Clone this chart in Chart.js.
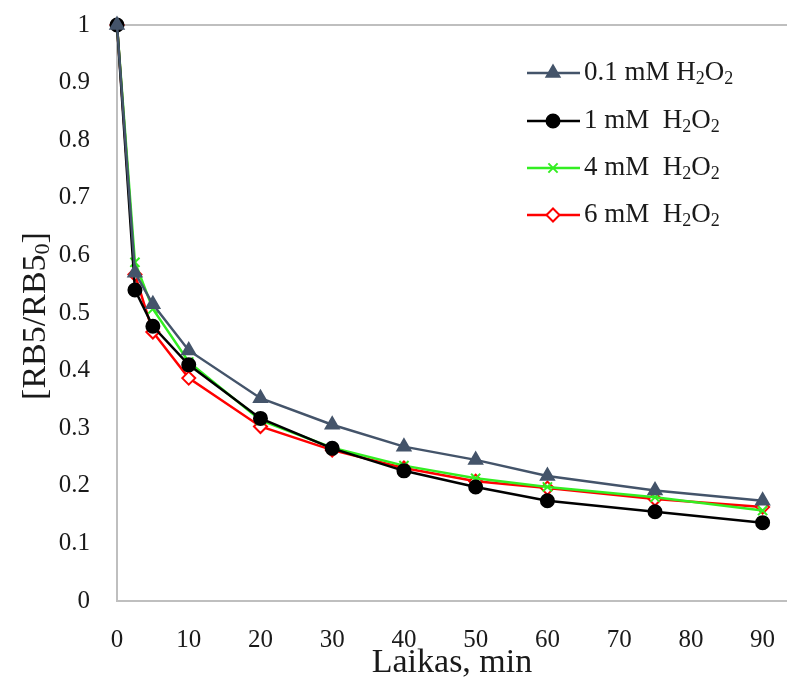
<!DOCTYPE html>
<html>
<head>
<meta charset="utf-8">
<script src="https://cdn.jsdelivr.net/npm/chart.js@4.4.0/dist/chart.umd.min.js"></script>
<style>
  html, body { margin: 0; padding: 0; background: #fff; }
  #wrap { width: 787px; height: 684px; }
</style>
</head>
<body>
<div id="wrap"><canvas id="chart" width="787" height="684"></canvas></div>
<script>
// time, min
const times = [0, 2.5, 5, 10, 20, 30, 40, 50, 60, 75, 90]
// RB5/RB5_0 for each H2O2 dose
const h2o2_01 = [1, 0.57, 0.515, 0.435, 0.352, 0.306, 0.268, 0.245, 0.217, 0.192, 0.174]
const h2o2_1 = [1, 0.54, 0.477, 0.41, 0.317, 0.265, 0.226, 0.198, 0.174, 0.155, 0.136]
const h2o2_4 = [1, 0.588, 0.507, 0.415, 0.314, 0.266, 0.235, 0.213, 0.198, 0.18, 0.157]
const h2o2_6 = [1, 0.567, 0.467, 0.387, 0.303, 0.262, 0.231, 0.208, 0.196, 0.177, 0.163]
const seriesLabels = ["0.1 mM", "1 mM", "4 mM", "6 mM"]
const xTicks = [0, 10, 20, 30, 40, 50, 60, 70, 80, 90]
const yTicks = [0, 0.1, 0.2, 0.3, 0.4, 0.5, 0.6, 0.7, 0.8, 0.9, 1]

const FONT = "'Liberation Serif', 'Times New Roman', serif"
const AXIS = "#BFBFBF"
const toPoints = (vals) => vals.map((v, i) => ({ x: times[i], y: v }))

const styles = [
    { color: "#44546A", pointStyle: "triangle", radius: 7.5, fill: "#44546A" },
    { color: "#000000", pointStyle: "circle", radius: 6.5, fill: "#000000" },
    { color: "#33EE22", pointStyle: "cross", radius: 6.5, fill: "#33EE22", rotation: 45 },
    { color: "#FF0000", pointStyle: "rectRot", radius: 6.5, fill: "#FFFFFF" },
]

const datasets = [h2o2_01, h2o2_1, h2o2_4, h2o2_6].map((vals, i) => ({
    label: seriesLabels[i],
    data: toPoints(vals),
    borderColor: styles[i].color,
    backgroundColor: styles[i].fill,
    pointBorderColor: styles[i].color,
    pointBackgroundColor: styles[i].fill,
    pointStyle: styles[i].pointStyle,
    pointRadius: styles[i].radius,
    pointRotation: styles[i].rotation || 0,
    pointBorderWidth: 2,
    borderWidth: 2.5,
    tension: 0,
    clip: false,
}))

// draws text made of [string, isSub] parts
function drawRich(ctx, parts, x, y, size){
    let cx = x
    parts.forEach(([txt, sub]) => {
        ctx.font = (sub ? Math.round(size * 0.65) : size) + "px " + FONT
        ctx.fillText(txt, cx, sub ? y + size * 0.22 : y)
        cx += ctx.measureText(txt).width
    })
}

// the scales add label room to the chart area padding; drop it, layout.padding decides
const noPad = (s) => { s.paddingTop = 0; s.paddingBottom = 0; s.paddingLeft = 0; s.paddingRight = 0 }

const extras = {
    id: "extras",
    beforeDatasetsDraw(chart){
        // top frame line at y = 1
        const ctx = chart.ctx
        const y = chart.scales.y.getPixelForValue(1)
        ctx.save()
        ctx.strokeStyle = AXIS
        ctx.lineWidth = 2
        ctx.beginPath()
        ctx.moveTo(chart.chartArea.left, y)
        ctx.lineTo(chart.chartArea.right, y)
        ctx.stroke()
        ctx.restore()
    },
    afterDraw(chart){
        const ctx = chart.ctx
        ctx.save()
        ctx.fillStyle = "#1a1a1a"
        ctx.textBaseline = "middle"
        ctx.textAlign = "left"

        // legend
        const rows = [73, 121, 168, 215]
        chart.data.datasets.forEach((ds, i) => {
            const y = rows[i]
            ctx.strokeStyle = ds.borderColor
            ctx.lineWidth = 2.5
            ctx.beginPath()
            ctx.moveTo(527, y)
            ctx.lineTo(580, y)
            ctx.stroke()
            ctx.fillStyle = ds.pointBackgroundColor
            ctx.lineWidth = 2
            Chart.helpers.drawPoint(ctx, {
                pointStyle: ds.pointStyle, radius: ds.pointRadius,
                rotation: ds.pointRotation, borderWidth: 2
            }, 553, y)
            ctx.fillStyle = "#1a1a1a"
            const gap = i === 0 ? " " : "  "
            drawRich(ctx, [[ds.label + gap + "H", false], ["2", true], ["O", false], ["2", true]], 584, y, 27)
        })

        // y axis title
        ctx.translate(36, 316)
        ctx.rotate(-Math.PI / 2)
        ctx.textAlign = "left"
        const parts = [["[RB5/RB5", false], ["0", true], ["]", false]]
        let w = 0
        parts.forEach(([t, s]) => { ctx.font = (s ? Math.round(34 * 0.65) : 34) + "px " + FONT; w += ctx.measureText(t).width })
        drawRich(ctx, parts, -w / 2, 0, 34)
        ctx.restore()
    }
}

new Chart(document.getElementById("chart"), {
    type: "line",
    data: { datasets },
    plugins: [extras],
    options: {
        responsive: false,
        animation: false,
        layout: { autoPadding: false, padding: { top: 25, right: 0, left: 0, bottom: 0 } },
        plugins: { legend: { display: false }, tooltip: { enabled: false } },
        scales: {
            x: {
                type: "linear",
                min: 0, max: 93.4,
                afterBuildTicks: (s) => { s.ticks = xTicks.map(v => ({ value: v })) },
                afterFit: (s) => { s.height = 83; noPad(s) },
                grid: { display: false, drawTicks: false },
                border: { display: true, color: AXIS, width: 2 },
                ticks: { color: "#1a1a1a", padding: 24, maxRotation: 0, font: { family: FONT, size: 25 } },
                title: { display: true, text: "Laikas, min", color: "#1a1a1a", padding: { top: 0, bottom: 1 }, font: { family: FONT, size: 34 } },
            },
            y: {
                min: 0, max: 1,
                afterBuildTicks: (s) => { s.ticks = yTicks.map(v => ({ value: v })) },
                afterFit: (s) => { s.width = 117; noPad(s) },
                grid: { display: false, drawTicks: false },
                border: { display: true, color: AXIS, width: 2 },
                ticks: {
                    color: "#1a1a1a", padding: 27, font: { family: FONT, size: 25 },
                    callback: (v) => String(Math.round(v * 10) / 10),
                },
            },
        },
    },
})
</script>
</body>
</html>
